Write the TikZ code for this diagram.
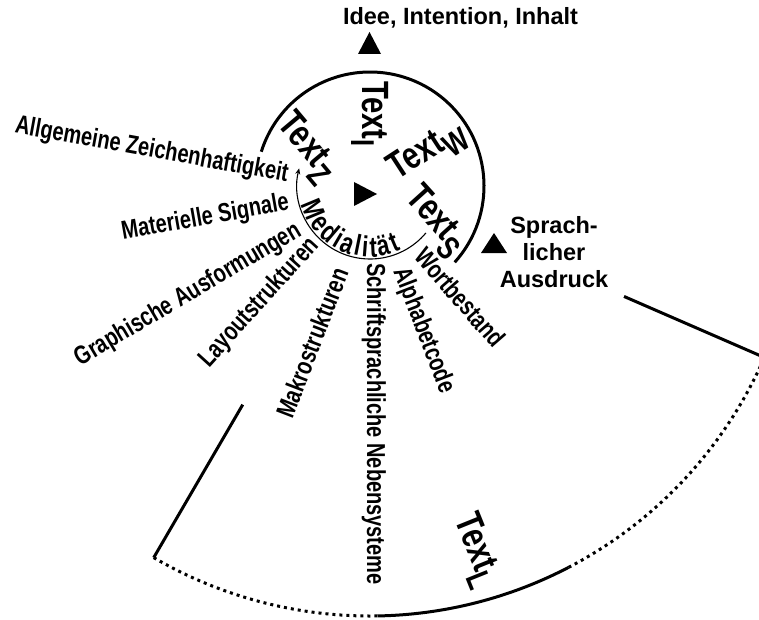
\documentclass[tikz,border=0pt]{standalone}
\usepackage{fontspec}
\setmainfont{Liberation Sans}
\newfontfamily\narrowsf[FakeStretch=0.77]{Liberation Sans Bold}
\usetikzlibrary{calc,arrows.meta,decorations.text}

\tikzset{
  lbl/.style={font=\narrowsf\fontsize{26}{26}\selectfont,inner sep=0pt},
  txt/.style={font=\narrowsf\fontsize{38}{38}\selectfont,inner sep=0pt},
  headlbl/.style={font=\bfseries\fontsize{23.5}{27}\selectfont,inner sep=0pt},
  rim/.style={line width=3pt},
  dotrim/.style={line width=3pt,dash pattern=on 3pt off 4pt},
}
\newcommand{\subtxt}[1]{Text\raisebox{-.3em}{\fontsize{33}{33}\selectfont #1}}

\begin{document}
\begin{tikzpicture}[x=1pt,y=1pt]
\useasboundingbox (0,0) rectangle (759,-620);
\coordinate (C) at (370,-186);

% outer sector
\draw[rim] ($(C)+(-120.2:253)$) -- ($(C)+(-120.2:430)$);
\draw[rim] ($(C)+(-23.5:277)$) -- ($(C)+(-23.5:430)$);
\draw[dotrim] ($(C)+(-120.2:430)$) arc[start angle=-120.2,end angle=-89,radius=430];
\draw[rim] ($(C)+(-89:430)$) arc[start angle=-89,end angle=-62.5,radius=430];
\draw[dotrim] ($(C)+(-62.5:430)$) arc[start angle=-62.5,end angle=-23.5,radius=430];

% circle and inner arrow
\draw[rim] ($(C)+(-42:114)$) arc[start angle=-42,end angle=162.5,radius=114];
\draw[line width=1.1pt,-{Stealth[length=6pt,width=5pt]}] ($(C)+(-40:73)$) arc[start angle=-40,end angle=-194,radius=73];

% triangles
\fill (358,-54) -- (381,-54) -- (369.5,-32) -- cycle;
\fill (354,-182) -- (354,-206) -- (377,-194) -- cycle;
\fill (481,-253) -- (507,-253) -- (494,-233) -- cycle;

\node[headlbl,anchor=base] (idee) at (460.5,-25) {Idee, Intention, Inhalt};
\node[headlbl,align=center] (ausdr) at (554,-252) {Sprach-\\licher\\Ausdruck};

\node[txt,rotate=-90] (ti) at (370,-114) {\subtxt{I}};
\node[txt,rotate=-50] (tz) at (306,-148) {\subtxt{Z}};
\node[txt,rotate=33] (tw) at (428,-152) {\subtxt{W}};
\node[txt,rotate=-48] (ts) at (435,-222) {\subtxt{S}};
\node[txt,rotate=-68] (tl) at (475,-551) {\subtxt{L}};

\foreach \n/\x/\y/\a/\s in {a/287/182/-10.3/Allgemeine Zeichenhaftigkeit,
  b/290/210/10/Materielle Signale,c/303/235/30.6/Graphische Ausformungen,
  d/320/246/47.8/Layoutstrukturen,e/349/272/69/Makrostrukturen}
  \node[lbl,anchor=base east,rotate=\a] (\n) at (\x,-\y) {\s};
\foreach \n/\x/\y/\a/\s in {f/367/263/-90/Schriftsprachliche Nebensysteme,
  g/393/271/-69/Alphabetcode,h/413/257/-49/Wortbestand}
  \node[lbl,anchor=base west,rotate=\a] (\n) at (\x,-\y) {\s};

\path[decorate,decoration={text along path,text align=fit to path,
  text={|\narrowsf\fontsize{29}{29}\selectfont|Medialität}}]
  ($(C)+(195:71)$) arc[start angle=195,end angle=296,radius=71];
\end{tikzpicture}
\end{document}
